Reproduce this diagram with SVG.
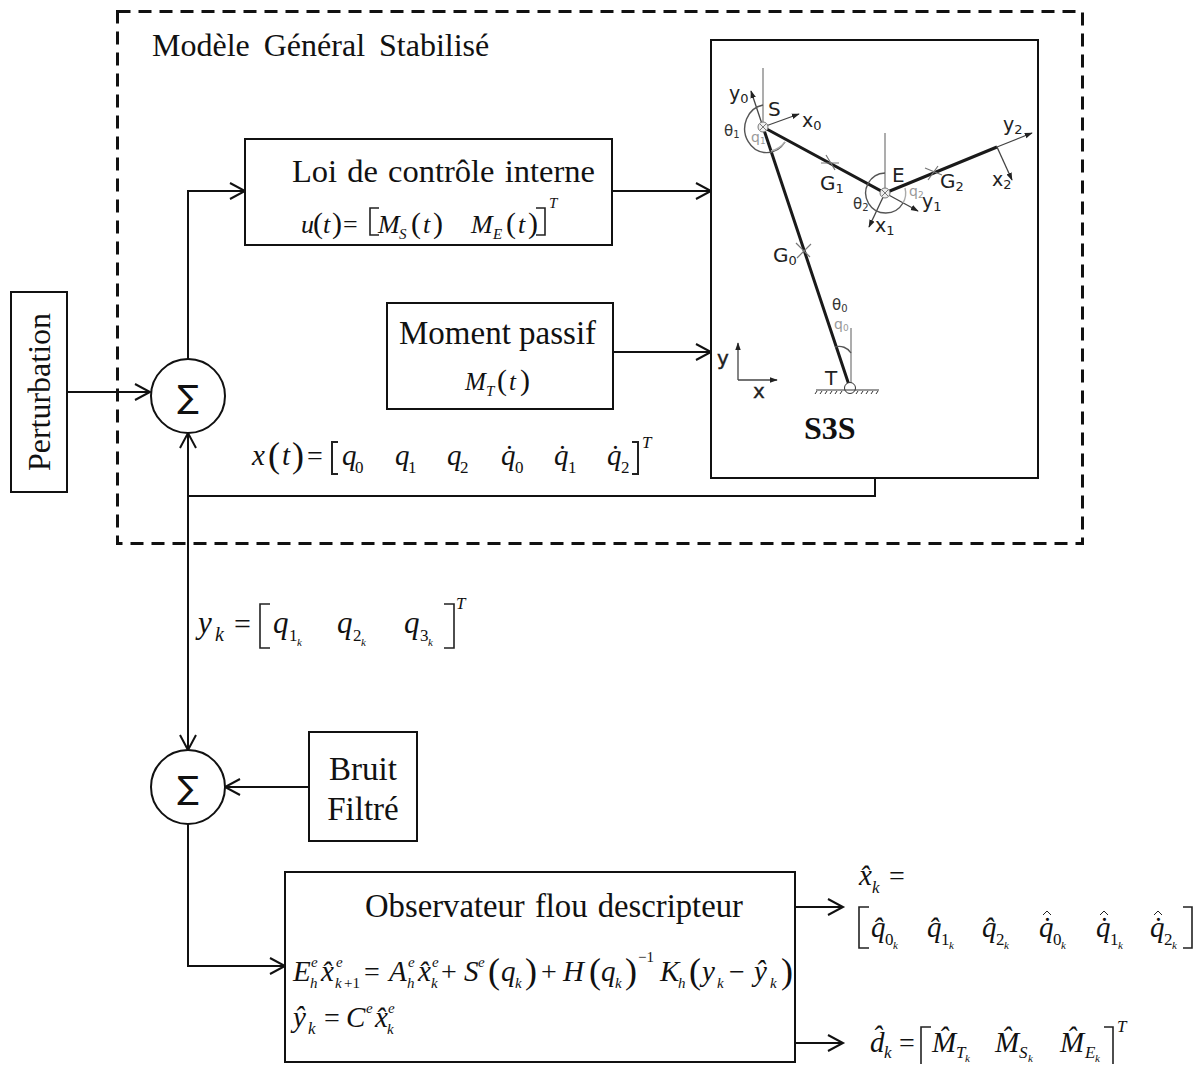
<svg xmlns="http://www.w3.org/2000/svg" width="1200" height="1066" viewBox="0 0 1200 1066">
<defs>
<marker id="a" viewBox="0 0 20 20" refX="17" refY="10" markerWidth="20" markerHeight="20" markerUnits="userSpaceOnUse" orient="auto-start-reverse"><path d="M2 2L17 10L2 18" fill="none" stroke="#111" stroke-width="2"/></marker>
<marker id="r" viewBox="0 0 10 10" refX="9" refY="5" markerWidth="8" markerHeight="8" markerUnits="userSpaceOnUse" orient="auto"><path d="M0 1.500L10 5L0 8.500Z" fill="#222"/></marker>
</defs>
<style>
text{font-family:"Liberation Serif","Times New Roman",serif;fill:#111}
.box{fill:#fff;stroke:#111;stroke-width:2}
.c{fill:none;stroke:#111;stroke-width:2}
.ar{marker-end:url(#a)}
.t{font-size:33px}
.m{font-size:29px;font-style:italic}
.n{font-size:28px}
.pr{font-size:36px;font-weight:100}
.s{font-size:17px;font-style:italic}
.ss{font-size:17px}
.x{font-size:11px;font-style:italic}
.b{fill:none;stroke:#222;stroke-width:1.6}
.hat{fill:none;stroke:#222;stroke-width:1}
.l text{font-family:"DejaVu Sans","Liberation Sans",sans-serif;font-size:19px;fill:#222}
.lg{font-family:"DejaVu Sans","Liberation Sans",sans-serif;font-size:14px;fill:#999}
.g{font-family:"DejaVu Sans","Liberation Sans",sans-serif;font-size:15px;fill:#333}
.link{fill:none;stroke:#1a1a1a;stroke-width:3}
.thin{fill:none;stroke:#777;stroke-width:1.2}
.arc{fill:none;stroke:#555;stroke-width:1.4}
.ax{fill:none;stroke:#444;stroke-width:1.3;marker-end:url(#r)}
</style>
<rect width="1200" height="1066" fill="#fff"/>

<g id="boundary">
<rect x="117.500" y="11.500" width="965" height="532" fill="none" stroke="#111" stroke-width="3" stroke-dasharray="13 8"/>
<text x="152" y="56" style="font-size:32px;word-spacing:6px">Modèle Général Stabilisé</text>
</g>

<g id="connectors">
<path class="c ar" d="M67 392H150"/>
<path class="c ar" d="M188 359V191H245"/>
<path class="c ar" d="M612 191H711"/>
<path class="c ar" d="M613 352H711"/>
<path class="c" d="M875 478V496H188"/>
<path class="c" d="M188 433V750" marker-start="url(#a)" marker-end="url(#a)"/>
<path class="c ar" d="M309 787H225"/>
<path class="c ar" d="M188 824V966H285"/>
<path class="c ar" d="M795 907H843"/>
<path class="c ar" d="M795 1043H843"/>
</g>

<g id="perturbation">
<rect class="box" x="11" y="292" width="56" height="200"/>
<text transform="translate(50 392) rotate(-90)" text-anchor="middle" style="font-size:32px">Perturbation</text>
</g>

<g id="sum1">
<circle class="box" cx="188" cy="396" r="37"/>
<text x="188" y="408" text-anchor="middle" style="font-family:'DejaVu Sans',sans-serif;font-size:32px">∑</text>
</g>
<g id="sum2">
<circle class="box" cx="188" cy="787" r="37"/>
<text x="188" y="799" text-anchor="middle" style="font-family:'DejaVu Sans',sans-serif;font-size:32px">∑</text>
</g>

<g id="loi">
<rect class="box" x="245" y="139" width="367" height="106"/>
<text x="292" y="182" style="font-size:32.500px;word-spacing:2px">Loi de contrôle interne</text>
<g style="font-size:26px">
<text x="301" y="233" style="font-style:italic">u</text>
<text x="313" y="233" style="font-size:30px">(</text>
<text x="323" y="233" style="font-style:italic">t</text>
<text x="332" y="233" style="font-size:30px">)</text>
<text x="343" y="233">=</text>
<text x="378" y="233" style="font-style:italic">M</text>
<text class="s" x="399" y="239" style="font-size:15px">S</text>
<text x="411" y="233" style="font-size:30px">(</text>
<text x="423" y="233" style="font-style:italic">t</text>
<text x="433" y="233" style="font-size:30px">)</text>
<text x="471" y="233" style="font-style:italic">M</text>
<text class="s" x="493" y="239" style="font-size:15px">E</text>
<text x="506" y="233" style="font-size:30px">(</text>
<text x="518" y="233" style="font-style:italic">t</text>
<text x="528" y="233" style="font-size:30px">)</text>
</g>
<path class="b" d="M379 208H370V235H379M536 208H545V235H536"/>
<text class="s" x="549" y="208" style="font-size:15px">T</text>
</g>

<g id="moment">
<rect class="box" x="387" y="303" width="226" height="106"/>
<text x="399" y="344" style="font-size:33px">Moment passif</text>
<text x="465" y="390" style="font-size:25px;font-style:italic">M</text>
<text class="s" x="486" y="396" style="font-size:15px">T</text>
<text x="497" y="390" style="font-size:30px">(</text>
<text x="509" y="390" style="font-size:25px;font-style:italic">t</text>
<text x="520" y="390" style="font-size:30px">)</text>
</g>

<g id="s3s">
<rect class="box" x="711" y="40" width="327" height="438"/>
<path class="thin" d="M763 68V127M885 133V193M851 328V388"/>
<path class="link" d="M763 127L885 193L997 147M763 127L850 388"/>
<path class="thin" d="M821 163H839M826 155L835 170M796 243L810 257M797 258L811 244M925 168L942 175M928 180L938 166"/>
<path class="ax" d="M763 127L751 91"/>
<path class="ax" d="M763 127L799 114"/>
<path class="ax" d="M885 193L918 211"/>
<path class="ax" d="M885 193L869 227"/>
<path class="ax" d="M997 147L1032 133"/>
<path class="ax" d="M997 147L1012 180"/>
<path class="arc" d="M763 105A22 24 0 1 0 785 142"/>
<path class="arc" d="M885 173A20 20 0 1 0 903 203"/>
<path class="arc" style="stroke:#aaa" d="M905 188A20 20 0 0 1 903 203M771 151A25 25 0 0 0 785 142"/>
<path class="arc" d="M835 347A14 14 0 0 1 851 353"/>
<circle cx="763" cy="127" r="5" fill="#eee" stroke="#777"/>
<circle cx="885" cy="193" r="5" fill="#eee" stroke="#777"/>
<path d="M760 124L766 130M766 124L760 130M882 190L888 196M888 190L882 196" stroke="#777" fill="none"/>
<circle cx="850" cy="388" r="5.500" fill="#fff" stroke="#333"/>
<path d="M816 390H879" stroke="#333" fill="none"/>
<path d="M817 391l-2 3M822 391l-2 3M827 391l-2 3M832 391l-2 3M837 391l-2 3M842 391l-2 3M858 391l-2 3M863 391l-2 3M868 391l-2 3M873 391l-2 3M878 391l-2 3" stroke="#333" fill="none"/>
<path class="ax" d="M738 380V343"/>
<path class="ax" d="M738 380H777"/>
<g class="l">
<text x="729" y="100">y<tspan font-size="13" dy="3">0</tspan></text>
<text x="768" y="116" style="font-size:20px">S</text>
<text x="802" y="127">x<tspan font-size="13" dy="3">0</tspan></text>
<text x="820" y="190" style="font-size:20px">G<tspan font-size="13" dy="3">1</tspan></text>
<text x="892" y="182" style="font-size:20px">E</text>
<text x="940" y="188" style="font-size:20px">G<tspan font-size="13" dy="3">2</tspan></text>
<text x="922" y="208">y<tspan font-size="13" dy="3">1</tspan></text>
<text x="875" y="232">x<tspan font-size="13" dy="3">1</tspan></text>
<text x="1003" y="131">y<tspan font-size="13" dy="3">2</tspan></text>
<text x="992" y="186">x<tspan font-size="13" dy="3">2</tspan></text>
<text x="773" y="262" style="font-size:20px">G<tspan font-size="13" dy="3">0</tspan></text>
<text x="825" y="385" style="font-size:20px">T</text>
<text x="717" y="365" style="font-size:20px;stroke:#222;stroke-width:.4">y</text>
<text x="753" y="398" style="font-size:20px;stroke:#222;stroke-width:.4">x</text>
</g>
<text class="g" x="724" y="136">θ<tspan font-size="10" dy="2">1</tspan></text>
<text class="g" x="853" y="209">θ<tspan font-size="10" dy="2">2</tspan></text>
<text class="g" x="832" y="310">θ<tspan font-size="10" dy="2">0</tspan></text>
<text class="lg" x="751" y="142">q<tspan font-size="9" dy="2">1</tspan></text>
<text class="lg" x="909" y="196">q<tspan font-size="9" dy="2">2</tspan></text>
<text class="lg" x="834" y="329">q<tspan font-size="9" dy="2">0</tspan></text>
<text x="804" y="439" style="font-size:32px;font-weight:bold">S3S</text>
</g>

<g id="state-equation">
<text class="m" x="252" y="465">x</text>
<text class="pr" x="268" y="467">(</text>
<text class="m" x="282" y="465">t</text>
<text class="pr" x="292" y="467">)</text>
<text class="n" x="307" y="465">=</text>
<path class="b" style="stroke-width:2" d="M338 442H332V474H338M632 442H638V474H632"/>
<text class="m" x="342" y="465">q</text><text class="ss" x="355" y="473">0</text>
<text class="m" x="395" y="465">q</text><text class="ss" x="408" y="473">1</text>
<text class="m" x="447" y="465">q</text><text class="ss" x="460" y="473">2</text>
<text class="m" x="501" y="465">q&#x307;</text><text class="ss" x="515" y="473">0</text>
<text class="m" x="554" y="465">q&#x307;</text><text class="ss" x="568" y="473">1</text>
<text class="m" x="607" y="465">q&#x307;</text><text class="ss" x="621" y="473">2</text>
<text class="s" x="642" y="448">T</text>
</g>

<g id="measure-equation">
<g style="font-size:31px">
<text x="198" y="633" style="font-style:italic">y</text>
<text x="273" y="633" style="font-style:italic">q</text>
<text x="337" y="633" style="font-style:italic">q</text>
<text x="404" y="633" style="font-style:italic">q</text>
</g>
<text class="s" x="215" y="641" style="font-size:20px">k</text>
<text class="n" x="234" y="634" style="font-size:30px">=</text>
<path class="b" d="M270 604H260V648H270M444 604H454V648H444"/>
<text class="ss" x="289" y="641">1</text><text class="x" x="297" y="646">k</text>
<text class="ss" x="353" y="641">2</text><text class="x" x="361" y="646">k</text>
<text class="ss" x="420" y="641">3</text><text class="x" x="428" y="646">k</text>
<text class="s" x="456" y="609">T</text>
</g>

<g id="bruit">
<rect class="box" x="309" y="732" width="108" height="109"/>
<text class="t" x="363" y="780" text-anchor="middle">Bruit</text>
<text class="t" x="363" y="820" text-anchor="middle">Filtré</text>
</g>

<g id="observateur">
<rect class="box" x="285" y="872" width="510" height="190"/>
<text x="365" y="917" style="font-size:32.700px;word-spacing:2px">Observateur flou descripteur</text>
<text class="m" x="293" y="981">E</text><text class="s" x="311" y="967" style="font-size:15px">e</text><text class="s" x="310" y="988" style="font-size:15px">h</text>
<text class="m" x="321" y="981">x&#x302;</text><text class="s" x="336" y="967" style="font-size:15px">e</text><text class="s" x="335" y="988" style="font-size:15px">k</text><text class="ss" x="344" y="988" style="font-size:15px">+1</text>
<text class="n" x="364" y="981">=</text>
<text class="m" x="389" y="981">A</text><text class="s" x="408" y="967" style="font-size:15px">e</text><text class="s" x="407" y="988" style="font-size:15px">h</text>
<text class="m" x="418" y="981">x&#x302;</text><text class="s" x="432" y="967" style="font-size:15px">e</text><text class="s" x="431" y="988" style="font-size:15px">k</text>
<text class="n" x="441" y="981">+</text>
<text class="m" x="464" y="981">S</text><text class="s" x="478" y="967" style="font-size:15px">e</text>
<text class="pr" x="488" y="983">(</text>
<text class="m" x="501" y="981">q</text><text class="s" x="515" y="988" style="font-size:15px">k</text>
<text class="pr" x="525" y="983">)</text>
<text class="n" x="541" y="981">+</text>
<text class="m" x="563" y="981">H</text>
<text class="pr" x="589" y="983">(</text>
<text class="m" x="601" y="981">q</text><text class="s" x="615" y="988" style="font-size:15px">k</text>
<text class="pr" x="625" y="983">)</text>
<text class="ss" x="638" y="962" style="font-size:15px">−1</text>
<text class="m" x="660" y="981">K</text><text class="s" x="678" y="988" style="font-size:15px">h</text>
<text class="pr" x="689" y="983">(</text>
<text class="m" x="702" y="981">y</text><text class="s" x="717" y="988" style="font-size:15px">k</text>
<text class="n" x="729" y="981">−</text>
<text class="m" x="754" y="981">y&#x302;</text><text class="s" x="770" y="988" style="font-size:15px">k</text>
<text class="pr" x="781" y="983">)</text>
<text class="m" x="293" y="1027">y&#x302;</text><text class="s" x="308" y="1034" style="font-size:17px">k</text>
<text class="n" x="324" y="1027">=</text>
<text class="m" x="346" y="1027">C</text><text class="s" x="366" y="1013" style="font-size:15px">e</text>
<text class="m" x="375" y="1027">x&#x302;</text><text class="s" x="388" y="1013" style="font-size:15px">e</text><text class="s" x="387" y="1034" style="font-size:15px">k</text>
</g>

<g id="output-x">
<text class="m" x="859" y="885">x&#x302;</text><text class="s" x="872" y="893">k</text>
<text class="n" x="889" y="885">=</text>
<path class="b" d="M869 907H859V948H869M1183 907H1192V948H1183"/>
<text class="m" x="871" y="937">q&#x302;</text><text class="ss" x="885" y="945">0</text><text class="x" x="893" y="949">k</text>
<text class="m" x="927" y="937">q&#x302;</text><text class="ss" x="941" y="945">1</text><text class="x" x="949" y="949">k</text>
<text class="m" x="982" y="937">q&#x302;</text><text class="ss" x="996" y="945">2</text><text class="x" x="1004" y="949">k</text>
<text class="m" x="1039" y="937">q&#x307;</text><text class="ss" x="1053" y="945">0</text><text class="x" x="1061" y="949">k</text>
<text class="m" x="1096" y="937">q&#x307;</text><text class="ss" x="1110" y="945">1</text><text class="x" x="1118" y="949">k</text>
<text class="m" x="1150" y="937">q&#x307;</text><text class="ss" x="1164" y="945">2</text><text class="x" x="1172" y="949">k</text>
<path class="hat" d="M1043 915L1047 911L1051 915M1100 915L1104 911L1108 915M1154 915L1158 911L1162 915"/>
</g>

<g id="output-d">
<text class="m" x="870" y="1052">d&#x302;</text><text class="s" x="884" y="1058">k</text>
<text class="n" x="899" y="1052">=</text>
<path class="b" d="M931 1027H921V1064M1104 1027H1113V1064"/>
<text class="m" x="932" y="1052">M&#x302;</text><text class="s" x="956" y="1058">T</text><text class="x" x="965" y="1062">k</text>
<text class="m" x="995" y="1052">M&#x302;</text><text class="s" x="1019" y="1058">S</text><text class="x" x="1028" y="1062">k</text>
<text class="m" x="1060" y="1052">M&#x302;</text><text class="s" x="1085" y="1058">E</text><text class="x" x="1095" y="1062">k</text>
<text class="s" x="1117" y="1032">T</text>
</g>
</svg>
